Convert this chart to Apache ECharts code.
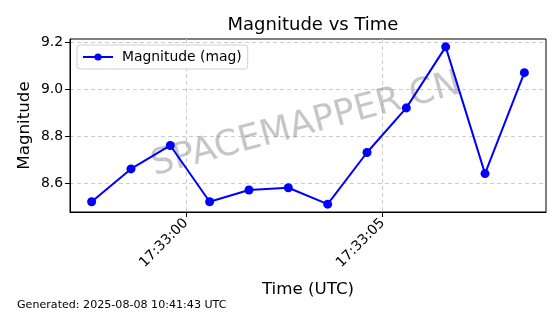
<!DOCTYPE html>
<html><head><meta charset="utf-8">
<script src="https://cdn.jsdelivr.net/npm/echarts@6/dist/echarts.min.js"></script>
<style>html,body{margin:0;padding:0;background:#fff}#c{width:560px;height:314px}</style>
</head><body><div id="c"></div>
<script>
const times = ['17:32:57.6','17:32:58.6','17:32:59.6','17:33:00.6','17:33:01.6','17:33:02.6','17:33:03.6','17:33:04.6','17:33:05.6','17:33:06.6','17:33:07.6','17:33:08.6'];
const magnitudes = [8.52, 8.66, 8.76, 8.52, 8.57, 8.58, 8.51, 8.73, 8.92, 9.18, 8.64, 9.07];
const xTickLabels = ['17:33:00', '17:33:05'];
const yTickValues = [8.6, 8.8, 9.0, 9.2];
const seriesName = 'Magnitude (mag)';
const titleText = 'Magnitude vs Time';
const footerText = 'Generated: 2025-08-08 10:41:43 UTC';
const watermarkText = 'SPACEMAPPER.CN';

function toSec(s){const p=s.split(':');return (+p[0])*3600+(+p[1])*60+(+p[2]);}
function fmt(v){v=Math.round(v);const h=Math.floor(v/3600),m=Math.floor((v%3600)/60),s=v%60;const z=n=>String(n).padStart(2,'0');return z(h)+':'+z(m)+':'+z(s);}
const xs = times.map(toSec);
const data = xs.map((x,i)=>[x, magnitudes[i]]);
const xMinD=Math.min(...xs), xMaxD=Math.max(...xs), xPad=(xMaxD-xMinD)*0.05;
const yMinD=Math.min(...magnitudes), yMaxD=Math.max(...magnitudes), yPad=(yMaxD-yMinD)*0.05;
const xTickVals = xTickLabels.map(toSec);
const FONT = 'DejaVu Sans';
const chart = echarts.init(document.getElementById('c'), null, {renderer:'canvas'});
chart.setOption({
  animation:false,
  backgroundColor:'#fff',
  textStyle:{fontFamily:FONT},
  title:{text:titleText,left:308,top:11,textAlign:'center',textStyle:{fontFamily:FONT,fontSize:18,fontWeight:'normal',color:'#000'}},
  grid:{left:70,right:14,top:39,bottom:102,show:true,borderColor:'#000',borderWidth:1,backgroundColor:'#fff'},
  legend:{left:77,top:45,orient:'vertical',padding:[5,6,5,5],borderColor:'#d0d0d0',borderWidth:1,borderRadius:3,backgroundColor:'rgba(255,255,255,0.8)',
    itemWidth:30,itemHeight:9,textStyle:{fontFamily:FONT,fontSize:13.9,color:'#000',padding:[0,0,0,4]},data:[seriesName]},
  xAxis:{type:'value',min:xMinD-xPad,max:xMaxD+xPad,
    name:'Time (UTC)',nameLocation:'middle',nameGap:69,nameMoveOverlap:false,nameTextStyle:{fontFamily:FONT,fontSize:16.7,color:'#000'},
    axisLine:{show:true,onZero:false,lineStyle:{color:'#000',width:1}},
    axisTick:{show:true,length:5,lineStyle:{color:'#000'},customValues:xTickVals},
    axisLabel:{customValues:xTickVals,formatter:fmt,rotate:45,margin:9,fontFamily:FONT,fontSize:13.9,color:'#000'},
    splitLine:{show:true,lineStyle:{color:'#cccccc',type:[4,3],width:1}}},
  yAxis:{type:'value',min:yMinD-yPad,max:yMaxD+yPad,
    name:'Magnitude',nameLocation:'middle',nameGap:37,nameMoveOverlap:false,nameRotate:90,nameTextStyle:{fontFamily:FONT,fontSize:16.7,color:'#000'},
    axisLine:{show:true,onZero:false,lineStyle:{color:'#000',width:1}},
    axisTick:{show:true,length:5,lineStyle:{color:'#000'},customValues:yTickValues},
    axisLabel:{customValues:yTickValues,formatter:v=>v.toFixed(1),margin:7,fontFamily:FONT,fontSize:13.9,color:'#000'},
    splitLine:{show:true,lineStyle:{color:'#cccccc',type:[4,3],width:1}}},
  graphic:[
    {type:'text',left:17,top:300,z:10,style:{text:footerText,fontFamily:FONT,fontSize:11.1,fill:'#000'}},
    {type:'text',x:306,y:125,rotation:15*Math.PI/180,z:1,style:{text:watermarkText,fontFamily:FONT,fontSize:35.5,fill:'rgba(128,128,128,0.45)',align:'center',verticalAlign:'middle'}}
  ],
  series:[{name:seriesName,type:'line',data:data,color:'#0000ff',symbol:'circle',symbolSize:9,showSymbol:true,
    lineStyle:{color:'#0000ff',width:2},itemStyle:{color:'#0000ff'},z:3}]
});
</script></body></html>
